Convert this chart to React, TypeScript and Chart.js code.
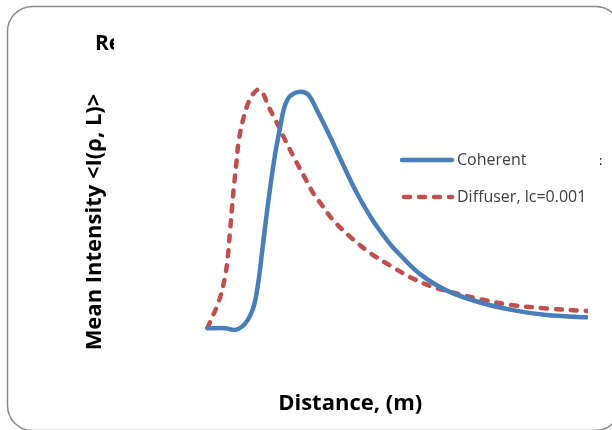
import React, { useEffect, useRef } from "react";
import { Chart, registerables } from "chart.js";

Chart.register(...registerables);

const seriesLabels = ["Coherent", "Diffuser, lc=0.001"];
const xTitle = "Distance, (m)";
const yTitle = "Mean Intensity <I(ρ, L)>";
const chartTitleFragment = "Re";

const coherentX = [1.0, 1.187, 1.292, 1.397, 1.484, 1.537, 1.572, 1.614, 1.66, 1.712, 1.765, 1.81, 1.87, 1.975, 2.062, 2.15, 2.29, 2.426, 2.57, 2.742, 2.92, 3.025, 3.235, 3.516, 3.866, 4.21, 4.566, 4.986];
const coherentY = [0.178, 0.178, 0.173, 0.193, 0.243, 0.324, 0.405, 0.506, 0.607, 0.708, 0.789, 0.85, 0.882, 0.895, 0.885, 0.839, 0.758, 0.673, 0.588, 0.503, 0.433, 0.4, 0.342, 0.292, 0.256, 0.233, 0.218, 0.211];

const diffuserX = [1.0, 1.124, 1.187, 1.215, 1.236, 1.257, 1.278, 1.303, 1.327, 1.373, 1.442, 1.52, 1.572, 1.642, 1.73, 1.817, 1.922, 2.027, 2.114, 2.185, 2.32, 2.5, 2.71, 2.92, 3.13, 3.34, 3.516, 3.866, 4.21, 4.566, 5.0];
const diffuserY = [0.179, 0.264, 0.339, 0.4, 0.47, 0.541, 0.609, 0.677, 0.743, 0.809, 0.87, 0.9, 0.895, 0.85, 0.8, 0.748, 0.688, 0.632, 0.586, 0.558, 0.506, 0.455, 0.406, 0.368, 0.333, 0.306, 0.291, 0.266, 0.248, 0.238, 0.23];

const BLUE = "#4a7ebb";
const RED = "#c0504d";
const FONT = "'Open Sans', sans-serif";

const framePlugin = {
  id: "frame",
  beforeDraw(chart: any) {
    const ctx = chart.ctx;
    ctx.save();
    ctx.fillStyle = "#ffffff";
    ctx.fillRect(0, 0, chart.width, chart.height);
    ctx.strokeStyle = "#8a8a8a";
    ctx.lineWidth = 1.5;
    const x = 7.5, y = 6.5, w = 613, h = 424, r = 25;
    ctx.beginPath();
    ctx.moveTo(x + r, y);
    ctx.lineTo(x + w - r, y);
    ctx.arcTo(x + w, y, x + w, y + r, r);
    ctx.lineTo(x + w, y + h - r);
    ctx.arcTo(x + w, y + h, x + w - r, y + h, r);
    ctx.lineTo(x + r, y + h);
    ctx.arcTo(x, y + h, x, y + h - r, r);
    ctx.lineTo(x, y + r);
    ctx.arcTo(x, y, x + r, y, r);
    ctx.closePath();
    ctx.stroke();
    ctx.restore();
  },
  afterDraw(chart: any) {
    const ctx = chart.ctx;
    ctx.save();
    // cut-off chart title fragment
    ctx.save();
    ctx.beginPath();
    ctx.rect(80, 20, 34, 40);
    ctx.clip();
    ctx.fillStyle = "#000";
    ctx.font = `bold 21px ${FONT}`;
    ctx.textBaseline = "alphabetic";
    ctx.textAlign = "left";
    ctx.fillText(chartTitleFragment, 95, 50);
    ctx.restore();
    ctx.fillStyle = "#000";
    ctx.font = `13px ${FONT}`;
    ctx.fillText(":", 599, 165);
    // legend
    const items = chart.data.datasets;
    const lx0 = 402, lx1 = 452, tx = 457;
    const ys = [160, 197];
    items.forEach((ds: any, i: number) => {
      const yy = ys[i];
      ctx.strokeStyle = ds.borderColor;
      ctx.lineWidth = ds.borderWidth;
      ctx.lineCap = ds.borderCapStyle || "butt";
      ctx.setLineDash(ds.borderDash || []);
      ctx.beginPath();
      ctx.moveTo(lx0 + (ds.borderDash ? 2 : 0), yy);
      ctx.lineTo(lx1, yy);
      ctx.stroke();
      ctx.setLineDash([]);
      ctx.fillStyle = "#404040";
      ctx.font = `16px ${FONT}`;
      ctx.textBaseline = "middle";
      ctx.fillText(ds.label, tx, yy);
    });
    ctx.restore();
  },
};

export default function App() {
  const ref = useRef<HTMLCanvasElement>(null);
  useEffect(() => {
    if (!ref.current) return;
    const chart = new Chart(ref.current, {
      type: "line",
      data: {
        datasets: [
          {
            label: seriesLabels[0],
            data: coherentX.map((x, i) => ({ x, y: coherentY[i] })),
            borderColor: BLUE,
            backgroundColor: BLUE,
            borderWidth: 4.5,
            pointRadius: 0,
            tension: 0.35,
            borderCapStyle: "round",
            borderJoinStyle: "round",
          },
          {
            label: seriesLabels[1],
            data: diffuserX.map((x, i) => ({ x, y: diffuserY[i] })),
            borderColor: RED,
            backgroundColor: RED,
            borderWidth: 4.5,
            borderDash: [6, 9],
            borderCapStyle: "round",
            pointRadius: 0,
            tension: 0.35,
          },
        ],
      },
      options: {
        animation: false,
        responsive: false,
        layout: { padding: { left: 78, right: 24, top: 57, bottom: 8.6 } },
        plugins: { legend: { display: false }, tooltip: { enabled: false }, title: { display: false } },
        scales: {
          x: {
            type: "linear",
            min: 0,
            max: 5,
            grid: { display: false, drawTicks: false, tickLength: 0 },
            border: { display: false },
            ticks: { display: false },
            title: { display: true, text: xTitle, color: "#000", padding: 4, font: { family: FONT, size: 22, weight: "bold", lineHeight: 1.2 } },
          },
          y: {
            type: "linear",
            min: 0,
            max: 1,
            grid: { display: false, drawTicks: false, tickLength: 0 },
            border: { display: false },
            ticks: { display: false },
            title: { display: true, text: yTitle, color: "#000", padding: 4, font: { family: FONT, size: 22, weight: "bold", lineHeight: 1.2 } },
          },
        },
      },
      plugins: [framePlugin],
    });
    return () => chart.destroy();
  }, []);
  return (
    <div style={{ position: "absolute", left: 0, top: 0, width: 612, height: 430 }}>
      <canvas ref={ref} width={612} height={430} style={{ display: "block" }} />
    </div>
  );
}
